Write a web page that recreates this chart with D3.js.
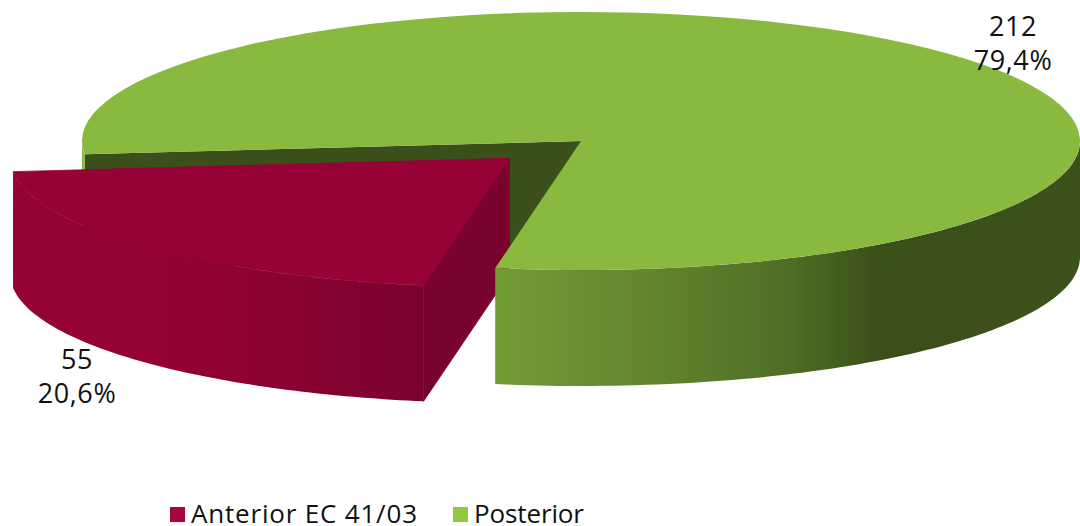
<!DOCTYPE html>
<html>
<head>
<meta charset="utf-8">
<script src="https://cdn.jsdelivr.net/npm/d3@7"></script>
<style>
  html, body { margin: 0; padding: 0; background: #fff; }
  svg { display: block; }
  text { font-family: "Open Sans", sans-serif; fill: #111; }
</style>
</head>
<body>
<div id="chart"></div>
<script>
// values
const categories = ["Anterior EC 41/03", "Posterior"];
const counts = [55, 212];
const percents = ["20,6%", "79,4%"];
const swatchColors = ["#a5063f", "#92c83e"];

const width = 1080, height = 526;

// projection of the tilted pie
const cx = 581, cy = 141, rx = 499, ry = 129, depth = 116;
const squash = ry / rx;
const explode = 98; // slice pull-out, in unflattened px
const firstAngle = 189.9 * Math.PI / 180;

const svg = d3.select("#chart").append("svg")
  .attr("width", width)
  .attr("height", height);

const slices = d3.pie().sort(null)
  .startAngle(firstAngle)
  .endAngle(firstAngle + 2 * Math.PI)(counts);

const red = slices[0], green = slices[1];

const topArc = d3.arc().innerRadius(0).outerRadius(rx);

// rim wall between two angles, sampled along the ellipse
function rim(a0, a1) {
  const n = 80;
  const angles = d3.range(n + 1).map(i => a0 + (a1 - a0) * i / n);
  return d3.area()
    .x(a => rx * Math.sin(a))
    .y0(a => -ry * Math.cos(a))
    .y1(a => -ry * Math.cos(a) + depth)(angles);
}

// flat wall running from the centre out to the rim at angle a
function radialWall(a) {
  const line = d3.line();
  const x = rx * Math.sin(a), y = -ry * Math.cos(a);
  return line([[0, 0], [x, y], [x, y + depth], [0, depth]]) + "Z";
}

// gradients
const defs = svg.append("defs");
function gradient(id, x1, x2, stops) {
  const g = defs.append("linearGradient")
    .attr("id", id)
    .attr("gradientUnits", "userSpaceOnUse")
    .attr("x1", x1).attr("x2", x2)
    .attr("y1", 0).attr("y2", 0);
  stops.forEach(s => g.append("stop").attr("offset", s[0]).attr("stop-color", s[1]));
}
gradient("greenWall", -86, 499, [[0, "#739c35"], [0.25, "#65862f"], [0.5, "#4f6e25"], [0.66, "#3a4f1a"], [1, "#3c511b"]]);
gradient("redWall", -499, -88, [[0, "#950235"], [0.35, "#950235"], [0.6, "#8c0233"], [1, "#7a022e"]]);

const pie3d = svg.append("g").attr("transform", `translate(${cx},${cy})`);

// green: cut face and the little strip of rim left of it
pie3d.append("path").attr("d", radialWall(green.startAngle)).attr("fill", "#3a4f1a");
pie3d.append("path").attr("d", rim(green.startAngle, 1.5 * Math.PI)).attr("fill", "#8ab93f");

// red slice pulled out along its middle angle
const mid = (red.startAngle + red.endAngle) / 2;
const redG = pie3d.append("g")
  .attr("transform", `translate(${explode * Math.sin(mid)},${-explode * Math.cos(mid) * squash})`);
redG.append("path").attr("d", rim(red.startAngle, red.endAngle)).attr("fill", "url(#redWall)");
// thin strokes close the antialiasing seams between the faces
redG.append("path").attr("d", radialWall(red.startAngle))
  .attr("fill", "#7a022e")
  .attr("stroke", "#7a022e").attr("stroke-width", 0.8);
redG.append("path")
  .attr("transform", `scale(1,${squash})`)
  .attr("d", topArc(red))
  .attr("fill", "#960235")
  .attr("stroke", "#960235").attr("stroke-width", 0.8)
  .attr("vector-effect", "non-scaling-stroke");

// green front wall and top go over the red one
pie3d.append("path").attr("d", rim(Math.PI / 2, green.endAngle - 2 * Math.PI)).attr("fill", "url(#greenWall)");
pie3d.append("path")
  .attr("transform", `scale(1,${squash})`)
  .attr("d", topArc(green))
  .attr("fill", "#8ab93f");

// data labels
const labelPos = [[77, 369], [1013, 36]];
const labels = svg.append("g").attr("text-anchor", "middle").attr("font-size", 27).attr("letter-spacing", 0.6);
counts.forEach((c, i) => {
  labels.append("text").attr("x", labelPos[i][0]).attr("y", labelPos[i][1]).text(c);
  labels.append("text").attr("x", labelPos[i][0]).attr("y", labelPos[i][1] + 34).text(percents[i]);
});

// legend
const legendX = [170, 453];
const legendTextWidth = [226, 110];
const legend = svg.append("g");
categories.forEach((c, i) => {
  legend.append("rect")
    .attr("x", legendX[i]).attr("y", 507)
    .attr("width", 15).attr("height", 15)
    .attr("fill", swatchColors[i]);
  legend.append("text")
    .attr("x", legendX[i] + 21).attr("y", 523)
    .attr("font-size", 26)
    .attr("textLength", legendTextWidth[i])
    .text(c);
});
</script>
</body>
</html>
